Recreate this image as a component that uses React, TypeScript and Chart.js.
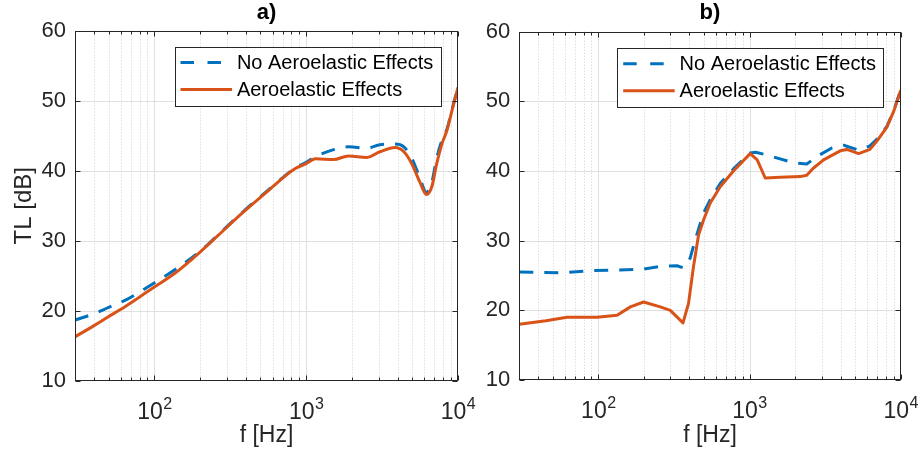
import React, { useEffect, useRef } from "react";
import { Chart, registerables } from "chart.js";

Chart.register(...registerables);

// ---------- data ----------
const FREQ_A = [30, 40, 50, 64, 80, 100, 137, 200, 264, 377, 566, 847, 1000, 1150, 1516, 1900, 2509, 3061, 3850, 4400, 4960, 5600, 6200, 6720, 7240, 7860, 8470, 9200, 10000];
const NO_AERO_A = [18.7, 19.6, 20.5, 21.5, 22.7, 24.0, 25.9, 28.5, 30.9, 34.0, 37.3, 40.4, 41.2, 42.0, 43.0, 43.4, 43.2, 43.7, 43.8, 43.4, 41.8, 39.0, 36.9, 38.3, 41.8, 44.4, 46.0, 49.0, 52.0];
const AERO_A = [16.3, 17.9, 19.2, 20.6, 22.0, 23.4, 25.4, 28.4, 30.8, 33.9, 37.2, 40.3, 41.0, 41.7, 41.6, 42.1, 41.9, 42.7, 43.3, 42.7, 41.0, 38.4, 36.6, 37.7, 41.0, 43.9, 45.8, 48.9, 51.9];

const FREQ_B_NO = [30, 56, 93, 198, 257, 331, 366, 405, 437, 497, 550, 640, 783, 1010, 1100, 1300, 1950, 2390, 2850, 3500, 4200, 5270, 6260, 7130, 8100, 9000, 10000];
const NO_AERO_B = [25.5, 25.4, 25.7, 25.9, 26.3, 26.4, 26.1, 27.5, 30.1, 34.0, 35.9, 38.2, 40.3, 42.6, 42.7, 42.3, 41.2, 41.0, 42.2, 43.3, 43.7, 43.0, 43.6, 44.8, 46.4, 48.7, 51.6];
const FREQ_B_AE = [30, 45, 62, 98, 133, 163, 199, 257, 299, 363, 395, 426, 460, 497, 550, 640, 783, 1010, 1124, 1270, 1600, 2165, 2390, 2640, 3090, 3980, 4400, 5270, 6260, 7130, 8100, 9000, 10000];
const AERO_B = [18.0, 18.5, 19.0, 19.0, 19.3, 20.5, 21.2, 20.5, 20.0, 18.2, 21.0, 26.3, 30.8, 33.0, 35.4, 37.75, 40.0, 42.5, 41.6, 39.0, 39.1, 39.2, 39.4, 40.4, 41.6, 42.9, 43.1, 42.5, 43.1, 44.6, 46.3, 48.6, 51.6];

const Y_TICKS = [10, 20, 30, 40, 50, 60];
const X_MAJOR = [100, 1000, 10000];
const X_TICK_BASE = "10";
const X_TICK_EXP = ["2", "3", "4"];
const X_MIN = 30;
const X_MAX = 10000;
const Y_MIN = 10;
const Y_MAX = 60;
const SERIES_LABELS = ["No Aeroelastic Effects", "Aeroelastic Effects"];
const TITLES = ["a)", "b)"];
const X_TITLE = "f [Hz]";
const Y_TITLE = "TL [dB]";

const BLUE = "#0072BD";
const RED = "#D95319";
const AX = "#262626";
const FONT = "'Liberation Sans', Arial, Helvetica, sans-serif";

function minorTicks(): number[] {
  const out: number[] = [];
  for (let d = 10; d < X_MAX; d *= 10) {
    for (let k = 2; k <= 9; k++) {
      const v = k * d;
      if (v > X_MIN && v < X_MAX) out.push(v);
    }
  }
  return out;
}

const matlabPlugin = {
  id: "matlabAxes",
  beforeDatasetsDraw(chart: any) {
    const { ctx, chartArea: a, scales } = chart;
    const x = scales.x;
    const y = scales.y;
    ctx.save();
    ctx.lineWidth = 1;
    ctx.strokeStyle = "#d0d0d0";
    ctx.setLineDash([1, 2]);
    for (const m of minorTicks()) {
      const px = Math.round(x.getPixelForValue(m)) + 0.5;
      ctx.beginPath();
      ctx.moveTo(px, a.top);
      ctx.lineTo(px, a.bottom);
      ctx.stroke();
    }
    ctx.setLineDash([]);
    ctx.strokeStyle = "#e0e0e0";
    for (const v of X_MAJOR) {
      if (v <= X_MIN || v >= X_MAX) continue;
      const px = Math.round(x.getPixelForValue(v)) + 0.5;
      ctx.beginPath();
      ctx.moveTo(px, a.top);
      ctx.lineTo(px, a.bottom);
      ctx.stroke();
    }
    for (const v of Y_TICKS) {
      if (v <= Y_MIN || v >= Y_MAX) continue;
      const py = Math.round(y.getPixelForValue(v)) + 0.5;
      ctx.beginPath();
      ctx.moveTo(a.left, py);
      ctx.lineTo(a.right, py);
      ctx.stroke();
    }
    ctx.restore();
  },
  afterDatasetsDraw(chart: any) {
    const { ctx, chartArea: a, scales } = chart;
    const x = scales.x;
    const y = scales.y;
    ctx.save();
    const L = Math.round(a.left) + 0.5;
    const R = Math.round(a.right) - 0.5;
    const T = Math.round(a.top) + 0.5;
    const B = Math.round(a.bottom) - 0.5;
    ctx.strokeStyle = AX;
    ctx.lineWidth = 1;
    ctx.strokeRect(L, T, R - L, B - T);
    ctx.beginPath();
    for (const v of X_MAJOR) {
      const px = Math.round(x.getPixelForValue(v)) + 0.5;
      ctx.moveTo(px, B); ctx.lineTo(px, B - 5);
      ctx.moveTo(px, T); ctx.lineTo(px, T + 5);
    }
    for (const m of minorTicks()) {
      const px = Math.round(x.getPixelForValue(m)) + 0.5;
      ctx.moveTo(px, B); ctx.lineTo(px, B - 3);
      ctx.moveTo(px, T); ctx.lineTo(px, T + 3);
    }
    for (const v of Y_TICKS) {
      const py = Math.round(y.getPixelForValue(v)) + 0.5;
      ctx.moveTo(L, py); ctx.lineTo(L + 5, py);
      ctx.moveTo(R, py); ctx.lineTo(R - 5, py);
    }
    ctx.stroke();

    // x tick labels with superscript exponents
    ctx.fillStyle = AX;
    ctx.textBaseline = "alphabetic";
    ctx.textAlign = "left";
    X_MAJOR.forEach((v, i) => {
      const px = x.getPixelForValue(v);
      ctx.font = `23px ${FONT}`;
      const bw = ctx.measureText(X_TICK_BASE).width;
      ctx.font = `16px ${FONT}`;
      const ew = ctx.measureText(X_TICK_EXP[i]).width;
      const left = px - (bw + ew) / 2;
      ctx.font = `23px ${FONT}`;
      ctx.fillText(X_TICK_BASE, left, a.bottom + 37.5);
      ctx.font = `16px ${FONT}`;
      ctx.fillText(X_TICK_EXP[i], left + bw + 0.5, a.bottom + 27.5);
    });

    // legend
    const w = 265.5;
    const h = 58.5;
    const bx = a.right - 18 - w;
    const by = a.top + 16.5;
    ctx.fillStyle = "#ffffff";
    ctx.fillRect(bx, by, w, h);
    ctx.strokeStyle = AX;
    ctx.lineWidth = 1;
    ctx.strokeRect(Math.round(bx) + 0.5, Math.round(by) + 0.5, Math.round(w), Math.round(h));
    const ds = chart.data.datasets;
    const rows = [by + 15.6, by + 42.6];
    ds.forEach((d: any, i: number) => {
      const ry = rows[i];
      ctx.save();
      ctx.strokeStyle = d.borderColor;
      ctx.lineWidth = 3;
      ctx.setLineDash(i === 0 ? [13.5, 13.5] : []);
      ctx.beginPath();
      ctx.moveTo(bx + 6, ry);
      ctx.lineTo(bx + 57.5, ry);
      ctx.stroke();
      ctx.restore();
      ctx.fillStyle = "#000000";
      ctx.font = `20px ${FONT}`;
      ctx.textBaseline = "middle";
      ctx.textAlign = "left";
      ctx.fillText(d.label, bx + 62.4, ry + 1);
    });
    ctx.restore();
  },
};

function makeConfig(opts: {
  title: string;
  blueX: number[]; blueY: number[];
  redX: number[]; redY: number[];
  padLeft: number; padRight: number;
  yWidth: number; xHeight: number;
  titlePadBottom: number;
  showYTitle: boolean;
  smooth: boolean;
}): any {
  const pts = (xs: number[], ys: number[]) => xs.map((f, i) => ({ x: f, y: ys[i] }));
  const common = {
    pointRadius: 0,
    borderWidth: 3,
    borderJoinStyle: "round",
    fill: false,
    tension: 0,
    cubicInterpolationMode: opts.smooth ? "monotone" : "default",
  };
  return {
    type: "line",
    data: {
      datasets: [
        { ...common, label: SERIES_LABELS[0], data: pts(opts.blueX, opts.blueY), borderColor: BLUE, borderDash: [14, 11], order: 1 },
        { ...common, label: SERIES_LABELS[1], data: pts(opts.redX, opts.redY), borderColor: RED, order: 0 },
      ],
    },
    options: {
      responsive: false,
      animation: false,
      events: [],
      layout: { padding: { left: opts.padLeft, right: opts.padRight, top: 0, bottom: 0 } },
      plugins: {
        legend: { display: false },
        tooltip: { enabled: false },
        title: {
          display: true,
          text: opts.title,
          fullSize: false,
          color: "#000000",
          font: { family: FONT, size: 22, weight: "bold", lineHeight: 1.2 },
          padding: { top: 0, bottom: opts.titlePadBottom },
        },
      },
      scales: {
        x: {
          type: "logarithmic",
          min: X_MIN,
          max: X_MAX,
          grid: { display: false, drawTicks: false },
          border: { display: false },
          ticks: { display: false },
          title: {
            display: true,
            text: X_TITLE,
            color: AX,
            font: { family: FONT, size: 23, lineHeight: 1.2 },
            padding: { top: 0, bottom: 10.9 },
          },
          afterFit: (s: any) => { s.height = opts.xHeight; },
        },
        y: {
          type: "linear",
          min: Y_MIN,
          max: Y_MAX,
          grid: { display: false, drawTicks: false },
          border: { display: false },
          afterBuildTicks: (s: any) => { s.ticks = Y_TICKS.map((v) => ({ value: v })); },
          ticks: {
            color: AX,
            padding: 9,
            font: { family: FONT, size: 22 },
            callback: (v: any) => String(v),
          },
          title: {
            display: opts.showYTitle,
            text: Y_TITLE,
            color: AX,
            font: { family: FONT, size: 24, lineHeight: 1.2 },
            padding: { top: 9.6, bottom: 0 },
          },
          afterFit: (s: any) => { s.width = opts.yWidth; },
        },
      },
    },
    plugins: [matlabPlugin],
  };
}

export default function App() {
  const ref1 = useRef<HTMLCanvasElement>(null);
  const ref2 = useRef<HTMLCanvasElement>(null);

  useEffect(() => {
    const c1 = new Chart(ref1.current as HTMLCanvasElement, makeConfig({
      title: TITLES[0],
      blueX: FREQ_A, blueY: NO_AERO_A,
      redX: FREQ_A, redY: AERO_A,
      padLeft: 0, padRight: 918 - 458,
      yWidth: 75, xHeight: 460 - 381,
      titlePadBottom: 4.1,
      showYTitle: true,
      smooth: true,
    }));
    const c2 = new Chart(ref2.current as HTMLCanvasElement, makeConfig({
      title: TITLES[1],
      blueX: FREQ_B_NO, blueY: NO_AERO_B,
      redX: FREQ_B_AE, redY: AERO_B,
      padLeft: 459.3, padRight: 918 - 900.7,
      yWidth: 60, xHeight: 460 - 380,
      titlePadBottom: 5.3,
      showYTitle: false,
      smooth: false,
    }));
    return () => { c1.destroy(); c2.destroy(); };
  }, []);

  const cs: React.CSSProperties = { position: "absolute", left: 0, top: 0, width: 918, height: 460 };
  return (
    <div style={{ position: "absolute", left: 0, top: 0, width: 918, height: 460, background: "#ffffff" }}>
      <canvas ref={ref1} width={918} height={460} style={cs} />
      <canvas ref={ref2} width={918} height={460} style={cs} />
    </div>
  );
}
